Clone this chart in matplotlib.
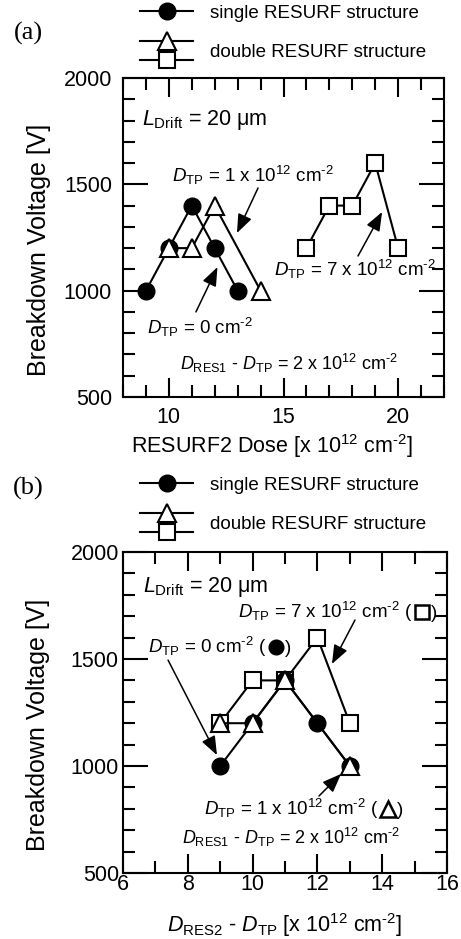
"""
Breakdown voltage of single / double RESURF devices, L_Drift = 20 um.
(a) against RESURF2 dose, (b) against D_RES2 - D_TP.
"""

import matplotlib
matplotlib.use("Agg")
import matplotlib.pyplot as plt
from matplotlib.lines import Line2D
from matplotlib.legend_handler import HandlerBase
from matplotlib.ticker import MultipleLocator
from matplotlib.transforms import offset_copy

plt.rcParams["font.family"] = ["Liberation Sans", "DejaVu Sans"]
plt.rcParams["mathtext.fontset"] = "custom"
plt.rcParams["mathtext.rm"] = "Liberation Sans"
plt.rcParams["mathtext.it"] = "Liberation Sans:italic"
plt.rcParams["mathtext.bf"] = "Liberation Sans:bold"

# ---- data ---------------------------------------------------------------
# (a) x = RESURF2 dose [1e12 cm^-2]
a_single_x = [9, 10, 11, 12, 13]
a_single_v = [1000, 1200, 1400, 1200, 1000]
a_tp1_x = [10, 11, 12, 14]
a_tp1_v = [1200, 1200, 1400, 1000]
a_tp7_x = [16, 17, 18, 19, 20]
a_tp7_v = [1200, 1400, 1400, 1600, 1200]

# (b) x = D_RES2 - D_TP [1e12 cm^-2]
b_single_x = [9, 10, 11, 12, 13]
b_single_v = [1000, 1200, 1400, 1200, 1000]
b_tp1_x = [9, 10, 11, 13]
b_tp1_v = [1200, 1200, 1400, 1000]
b_tp7_x = [9, 10, 11, 12, 13]
b_tp7_v = [1200, 1400, 1400, 1600, 1200]

LEGEND_LABELS = ["single RESURF structure", "double RESURF structure"]

# ---- styles -------------------------------------------------------------
LW = 1.5
CIRCLE = dict(marker="o", ms=12, mfc="k", mec="k", color="k", lw=LW, zorder=3)
TRIANGLE = dict(marker="^", ms=12.5, mfc="white", mec="k", mew=1.5,
                color="k", lw=LW, zorder=4)
SQUARE = dict(marker="s", ms=11.5, mfc="white", mec="k", mew=1.5,
              color="k", lw=LW, zorder=2)

TEXT_FS = 13.5
CM2 = r"cm$^{\text{-2}}$"
E12 = r"10$^{12}$"
LDRIFT = r"$L_{\rm Drift}$ = 20 μm"
DRES1 = r"$D_{\rm RES1}$ - $D_{\rm TP}$ = 2 x " + E12 + " " + CM2


class StackedHandler(HandlerBase):
    """Legend handle: two line+marker samples stacked vertically."""

    def create_artists(self, legend, orig_handle, xdescent, ydescent,
                       width, height, fontsize, trans):
        gap = 0.5 * fontsize
        artists = []
        for src, dy in zip(orig_handle, (gap, -gap)):
            y = height / 2 - ydescent + dy
            x0, x1 = -xdescent, width - xdescent
            ln = Line2D([x0, (x0 + x1) / 2, x1], [y, y, y])
            ln.update_from(src)
            ln.set_markevery([1])
            ln.set_transform(trans)
            artists.append(ln)
        return artists


def style_axes(ax, xlim, xmajor, xpad, ypad):
    ax.set_xlim(*xlim)
    ax.set_ylim(500, 2000)
    ax.xaxis.set_major_locator(MultipleLocator(xmajor))
    ax.xaxis.set_minor_locator(MultipleLocator(1))
    ax.yaxis.set_major_locator(MultipleLocator(500))
    ax.yaxis.set_minor_locator(MultipleLocator(100))
    ax.tick_params(which="both", direction="in", top=True, right=True,
                   width=1.5, labelsize=15.5)
    ax.tick_params(axis="x", which="major", length=14, pad=xpad)
    ax.tick_params(axis="y", which="major", length=18, pad=ypad)
    ax.tick_params(which="minor", length=8.5)
    for sp in ax.spines.values():
        sp.set_linewidth(1.5)
    ax.set_ylabel("Breakdown Voltage [V]", fontsize=18)
    ax.yaxis.set_label_coords(-0.225, 0.46)


def add_legend(fig, top_px):
    h_single = Line2D([], [], **CIRCLE)
    h_tri = Line2D([], [], **TRIANGLE)
    h_sq = Line2D([], [], **SQUARE)
    fig.legend([h_single, (h_tri, h_sq)], LEGEND_LABELS,
               handler_map={tuple: StackedHandler()},
               loc="upper left", bbox_to_anchor=(140 / 461, 1 - top_px / 939),
               frameon=False, fontsize=13.5, numpoints=1, handlelength=2.83,
               handletextpad=0.9, labelspacing=1.18, borderpad=0,
               borderaxespad=0)


def arrow(ax, tail, head):
    ax.annotate("", xy=head, xytext=tail,
                arrowprops=dict(arrowstyle="-|>,head_length=0.85,head_width=0.33",
                                color="k", lw=1.1, shrinkA=0, shrinkB=0,
                                mutation_scale=TEXT_FS))


def note(ax, x, y, s, fs=TEXT_FS):
    return ax.text(x, y, s, fontsize=fs, va="center")


def note_with_key(ax, x, y, s, style):
    """Baseline-anchored annotation followed by '(marker)', e.g. D_TP = 0 cm^-2 (●)."""
    fig = ax.figure
    t = ax.text(x, y, s + " (", fontsize=TEXT_FS, va="baseline")
    w_pt = t.get_window_extent(fig.canvas.get_renderer()).width * 72 / fig.dpi
    key_w = 10.5
    key_tr = offset_copy(ax.transData, fig=fig, x=w_pt + 1.3 + key_w / 2,
                         y=0.31 * TEXT_FS, units="points")
    ax.plot([x], [y], transform=key_tr, clip_on=False, ls="none",
            marker=style["marker"], ms=key_w * (1.05 if style["marker"] == "^" else 0.93),
            mfc=style["mfc"], mec="k", mew=1.8)
    close_tr = offset_copy(ax.transData, fig=fig, x=w_pt + key_w + 2.8,
                           y=0, units="points")
    ax.text(x, y, ")", fontsize=TEXT_FS, va="baseline", transform=close_tr)


fig = plt.figure(figsize=(4.61, 9.39), dpi=100)

# ---- (a) ----------------------------------------------------------------
ax_a = fig.add_axes([123 / 461, 1 - 397 / 939, 321 / 461, 319 / 939])
ax_a.plot(a_tp7_x, a_tp7_v, **SQUARE)
ax_a.plot(a_single_x, a_single_v, **CIRCLE)
ax_a.plot(a_tp1_x, a_tp1_v, **TRIANGLE)
style_axes(ax_a, (8, 22), 5, xpad=7, ypad=8)
ax_a.set_xlabel("RESURF2 Dose [x " + E12 + " " + CM2 + "]", fontsize=15.5)
ax_a.xaxis.set_label_coords(0.463, -0.11)

note(ax_a, 8.85, 1802, LDRIFT, fs=15.5)
note(ax_a, 10.14, 1544, r"$D_{\rm TP}$ = 1 x " + E12 + " " + CM2)
note(ax_a, 9.05, 829, r"$D_{\rm TP}$ = 0 " + CM2)
note(ax_a, 14.59, 1102, r"$D_{\rm TP}$ = 7 x " + E12 + " " + CM2)
note(ax_a, 10.49, 660, DRES1, fs=13)
arrow(ax_a, (13.89, 1483), (12.97, 1271))
arrow(ax_a, (11.18, 900), (12.12, 1111))
arrow(ax_a, (18.25, 1163), (19.30, 1370))

add_legend(fig, 4.8)
fig.text(28 / 461, 1 - 33 / 939, "(a)", family="Liberation Serif",
         fontsize=19, ha="center", va="center")

# ---- (b) ----------------------------------------------------------------
ax_b = fig.add_axes([123 / 461, 1 - 873 / 939, 324 / 461, 321 / 939])
ax_b.plot(b_tp7_x, b_tp7_v, **SQUARE)
ax_b.plot(b_single_x, b_single_v, **CIRCLE)
ax_b.plot(b_tp1_x, b_tp1_v, **TRIANGLE)
style_axes(ax_b, (6, 16), 2, xpad=0.5, ypad=3)
ax_b.set_xlabel(r"$D_{\rm RES2}$ - $D_{\rm TP}$ [x " + E12 + " " + CM2 + "]",
                fontsize=15.5)
ax_b.xaxis.set_label_coords(0.5, -0.12)

note(ax_b, 6.62, 1836, LDRIFT, fs=15.5)
note_with_key(ax_b, 9.55, 1692, r"$D_{\rm TP}$ = 7 x " + E12 + " " + CM2, SQUARE)
note_with_key(ax_b, 6.77, 1528, r"$D_{\rm TP}$ = 0 " + CM2, CIRCLE)
note_with_key(ax_b, 8.50, 771, r"$D_{\rm TP}$ = 1 x " + E12 + " " + CM2, TRIANGLE)
note(ax_b, 7.82, 664, DRES1, fs=13)
arrow(ax_b, (13.16, 1682), (12.45, 1477))
arrow(ax_b, (7.39, 1495), (8.90, 1051))
arrow(ax_b, (12.05, 860), (12.73, 963))

add_legend(fig, 476.8)
fig.text(28 / 461, 1 - 488 / 939, "(b)", family="Liberation Serif",
         fontsize=19, ha="center", va="center")

fig.savefig("out.png", dpi=100)
